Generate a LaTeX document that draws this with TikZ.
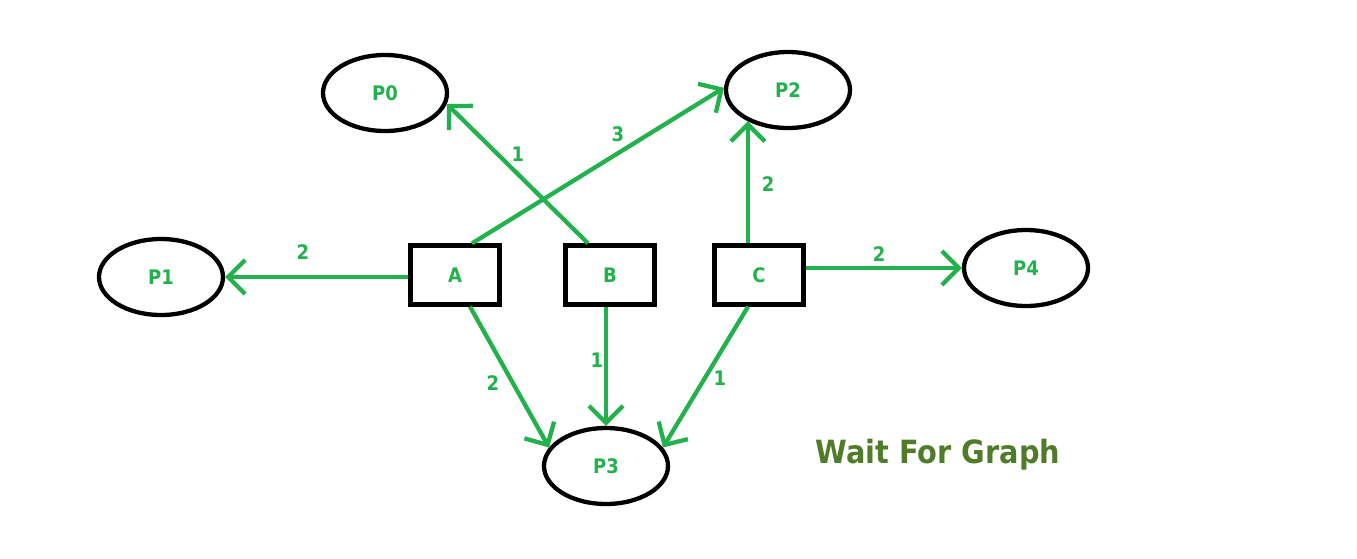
\documentclass[tikz,border=0pt]{standalone}
\usepackage{fontspec}
\setmainfont{DejaVu Sans}
\newfontfamily\lblfont{DejaVu Sans Condensed}[BoldFont={* Bold}]
\usetikzlibrary{shapes.geometric,arrows.meta}
\definecolor{pgreen}{HTML}{22B14C}
\definecolor{tgreen}{HTML}{507C2A}
\tikzset{
  proc/.style={ellipse,draw=black,line width=4.3pt,minimum width=124pt,minimum height=76pt,inner sep=0pt,
    font=\lblfont\bfseries\fontsize{20}{20}\selectfont,text=pgreen},
  res/.style={rectangle,draw=black,line width=4.3pt,minimum width=89pt,minimum height=59pt,inner sep=0pt,
    font=\lblfont\bfseries\fontsize{20}{20}\selectfont,text=pgreen},
  edge/.style={draw=pgreen,line width=4.3pt,-{Straight Barb[length=17pt,width=34pt,line width=4.3pt]}},
  wt/.style={font=\lblfont\bfseries\fontsize{20}{20}\selectfont,text=pgreen,inner sep=0pt}
}
\begin{document}
\begin{tikzpicture}[x=1pt,y=-1pt]
\useasboundingbox[fill=white] (0,0) rectangle (1357,558);
\node[proc] (P0) at (385,93) {P0};
\node[proc] (P2) at (788,90) {P2};
\node[proc] (P1) at (161,277) {P1};
\node[proc] (P4) at (1026,268) {P4};
\node[proc] (P3) at (606,466) {P3};
\node[res] (A) at (455,275) {A};
\node[res] (B) at (610,275) {B};
\node[res] (C) at (759,275) {C};
\draw[edge] (A.west |- P1) -- (P1.east);
\draw[edge] ([xshift=17pt]A.north) -- (P2.178);
\draw[edge] ([xshift=-22pt]B.north) -- (P0.-10);
\draw[edge] (C.north -| P2.218) -- (P2.218);
\draw[edge] (C.east |- P4) -- (P4.west);
\draw[edge] ([xshift=15pt]A.south) -- (P3.162);
\draw[edge] (B.south -| P3) -- (P3.north);
\draw[edge] ([xshift=-11pt]C.south) -- (P3.18);
\node[wt] (w1) at (303,252) {2};
\node[wt] (w2) at (618,134) {3};
\node[wt] (w3) at (518,154) {1};
\node[wt] (w4) at (768,184) {2};
\node[wt] (w5) at (879,254) {2};
\node[wt] (w6) at (493,383) {2};
\node[wt] (w7) at (597,360) {1};
\node[wt] (w8) at (720,378) {1};
\node[font=\lblfont\bfseries\fontsize{32}{32}\selectfont,text=tgreen,inner sep=0pt] (title) at (938,455) {Wait For Graph};
\end{tikzpicture}
\end{document}
